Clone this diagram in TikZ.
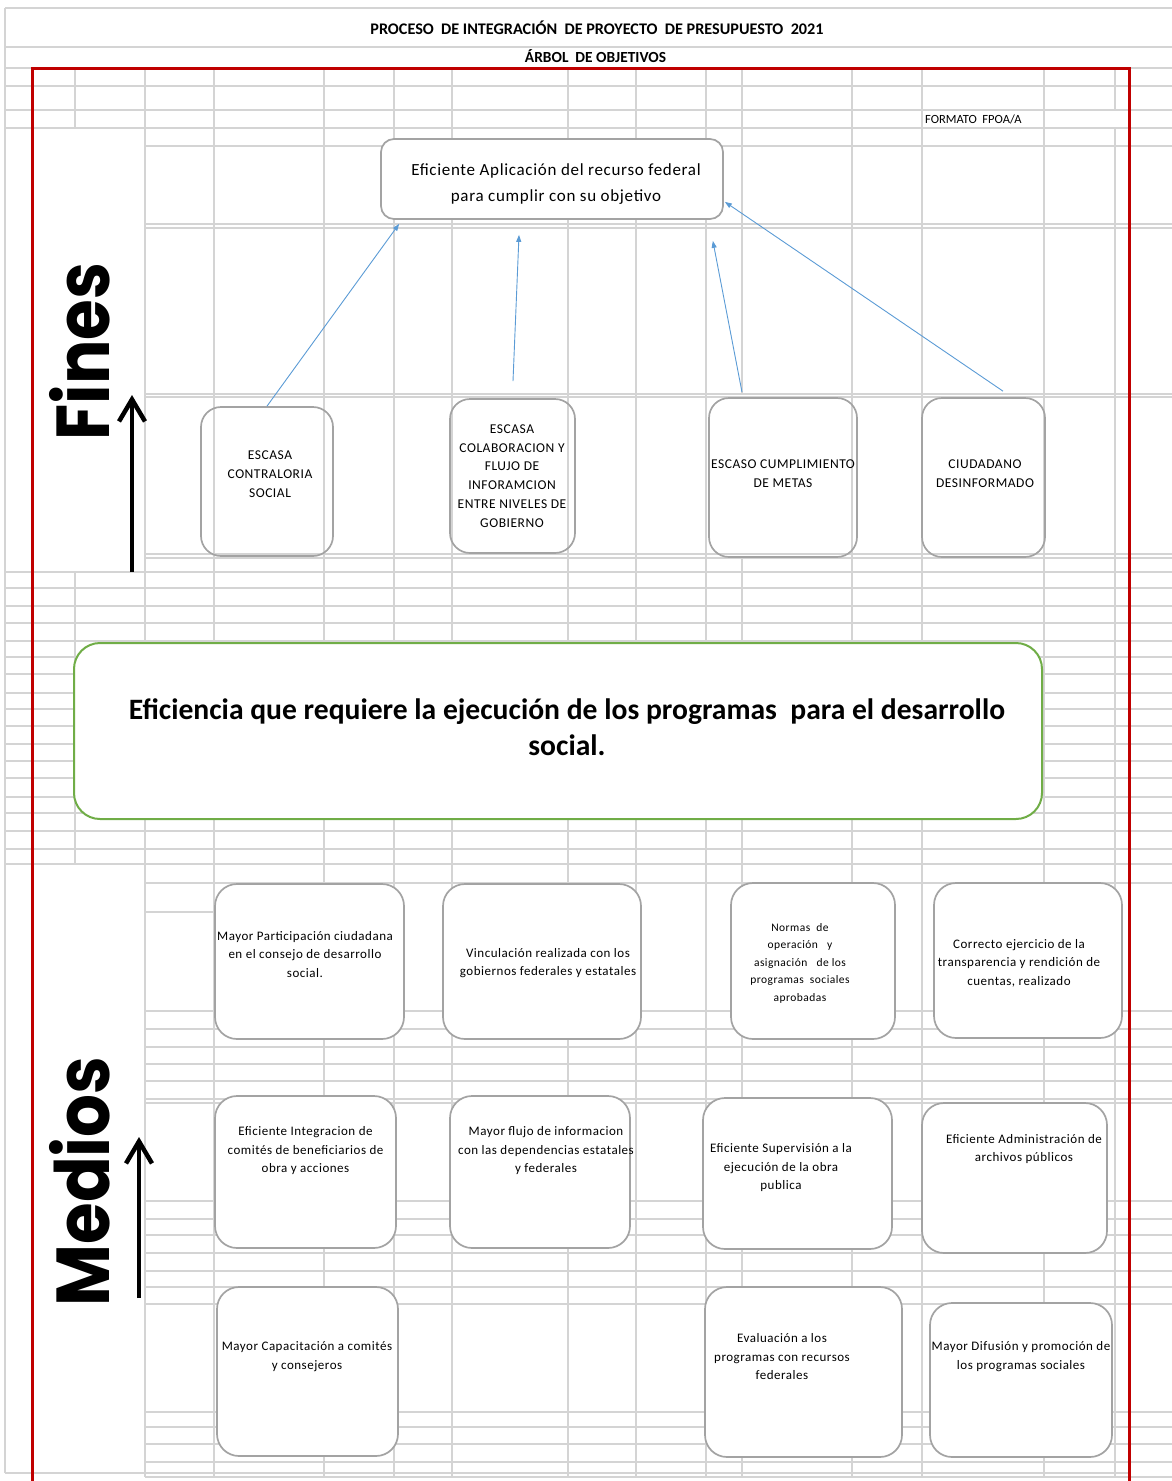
\documentclass[tikz,border=0pt]{standalone}
\usepackage{fontspec}
\usepackage{graphicx}
\setmainfont{Carlito}
\newfontfamily\spacedfont{Carlito}[LetterSpace = 4]
\newfontfamily\sidefont{Poppins Bold}
\usetikzlibrary{calc, fit, arrows.meta}

\definecolor{gridgrey}{HTML}{D4D4D4}
\definecolor{boxgrey}{HTML}{A3A3A3}
\definecolor{framered}{HTML}{C00000}
\definecolor{goalgreen}{HTML}{70AD47}
\definecolor{linkblue}{HTML}{5B9BD5}

\begin{document}
\begin{tikzpicture}[x = 1pt, y = -1pt,
		grid line/.style = {draw = gridgrey, line width = 1.4pt},
		cell box/.style = {draw = boxgrey, line width = 1.7pt, fill = white, inner sep = 0pt, rounded corners = 22pt},
		fin box/.style = {cell box, fill = none, rounded corners = 20pt},
		goal box/.style = {draw = goalgreen, line width = 2pt, fill = white, inner sep = 0pt, rounded corners = 26pt},
		top text/.style = {align = center, inner sep = 0pt, font = \spacedfont\fontsize{17}{26}\selectfont},
		fin text/.style = {align = center, inner sep = 0pt, font = \spacedfont\fontsize{13.5}{18.8}\selectfont},
		medio text/.style = {align = center, inner sep = 0pt, font = \spacedfont\fontsize{13}{18.5}\selectfont},
		link/.style = {draw = linkblue, line width = 0.9pt, -{Triangle[length = 7pt, width = 5pt]}},
		side arrow/.style = {line width = 4.5pt, -{Straight Barb[length = 22pt, width = 26pt]}},
		side label/.style = {rotate = 90, anchor = south, inner sep = 0pt, font = \sidefont\fontsize{75}{75}\selectfont}]
		\def\gridright{1172};
		\def\gridbottom{1477};

		\useasboundingbox (0,0) rectangle (1172,1481);

		\foreach \y in {8, 47, 68, 86, 110, 128, 572, 588, 606, 623, 641, 657, 674, 693, 709, 726, 744, 761, 778, 797, 813, 831, 849, 864}
			\draw [grid line] (5,\y) -- (\gridright,\y);
		\foreach \y in {146, 224, 228, 394, 397, 554, 558, 883, 1011, 1029, 1047, 1064, 1081, 1099, 1103, 1201, 1219, 1235, 1253, 1271, 1287, 1304, 1412, 1427, 1444, 1462, \gridbottom}
			\draw [grid line] (145,\y) -- (\gridright,\y);
		\draw [grid line] (145,912) -- (214,912) (568,912) -- (636,912) (1044,912) -- (1115,912);
		\draw [grid line] (5,1473) -- (1129,1473);

		\foreach \x in {145, 214, 324, 394, 452, 568, 636, 706, 852, 922, 1044}
			\draw [grid line] (\x,68) -- (\x,\gridbottom);
		\draw [grid line] (742,68) -- (742,394) (742,558) -- (742,\gridbottom);
		\draw [grid line] (1115,68) -- (1115,110) (1115,128) -- (1115,\gridbottom);
		\draw [grid line] (75,68) -- (75,128) (75,572) -- (75,864);
		\draw [grid line] (5,8) -- (5,1473);

		\draw [draw = framered, line width = 3pt] (32,1481) -- (32,68) -- (1129,68) -- (1129,1481);

		\node [font = \bfseries\fontsize{16.2}{16.2}\selectfont] (title) at (597,28) {PROCESO \ DE INTEGRACIÓN \ DE PROYECTO \ DE PRESUPUESTO \ 2021};
		\node [font = \bfseries\fontsize{15.4}{15.4}\selectfont] (subtitle) at (595.5,56) {ÁRBOL \ DE OBJETIVOS};
		\node [anchor = west, inner sep = 0pt, font = \fontsize{12.5}{12.5}\selectfont] (formato) at (925,119) {FORMATO \ FPOA/A};

		\node [cell box, rounded corners = 13pt, fit = {(381,139) (723,219)}] (aplicacion box) {};
		\node [top text] (aplicacion text) at (556,184) {Eficiente Aplicación del recurso federal\\para cumplir con su objetivo};

		\node [fin box, fit = {(201,407) (333,556)}] (fin 1 box) {};
		\node [fin text] (fin 1 text) at (270,474) {ESCASA\\CONTRALORIA\\SOCIAL};
		\node [fin box, fit = {(450,399) (575,553)}] (fin 2 box) {};
		\node [fin text] (fin 2 text) at (512,476) {ESCASA\\COLABORACION Y\\FLUJO DE\\INFORAMCION\\ENTRE NIVELES DE\\GOBIERNO};
		\node [fin box, fit = {(709,398) (857,557)}] (fin 3 box) {};
		\node [fin text] (fin 3 text) at (783,474) {ESCASO CUMPLIMIENTO\\DE METAS};
		\node [fin box, fit = {(922,398) (1045,557)}] (fin 4 box) {};
		\node [fin text] (fin 4 text) at (985,474) {CIUDADANO\\DESINFORMADO};

		\draw [link] (fin 1 box.north) -- ($ (aplicacion box.south west) + (19,4) $);
		\draw [link] ($ (fin 2 box.north) + (0.5,-17) $) -- ($ (aplicacion box.south) + (-33,15) $);
		\draw [link] ($ (fin 3 box.north) + (-41,-5) $) -- ($ (aplicacion box.south east) + (-11,21) $);
		\draw [link] ($ (fin 4 box.north) + (19.5,-6) $) -- ($ (aplicacion box.south east) + (1,-18) $);

		\node [goal box, fit = {(74,643) (1042,819)}] (eficiencia box) {};
		\node [align = center, inner sep = 0pt, font = \bfseries\fontsize{29.6}{36}\selectfont] (eficiencia text) at (567,727) {Eficiencia que requiere la ejecución de los programas \ para el desarrollo\\social.};

		\node [cell box, fit = {(215,884) (404,1039)}] (medio 1 1 box) {};
		\node [medio text] (medio 1 1 text) at (305,954.5) {Mayor Participación ciudadana\\en el consejo de desarrollo\\social.};
		\node [cell box, fit = {(443,884) (641,1039)}] (medio 1 2 box) {};
		\node [medio text] (medio 1 2 text) at (548,963) {Vinculación realizada con los\\gobiernos federales y estatales};
		\node [cell box, fit = {(731,883) (895,1039)}] (medio 1 3 box) {};
		\node [medio text, font = \spacedfont\fontsize{11.5}{17.5}\selectfont] (medio 1 3 text) at (800,963) {Normas \ de\\operación \ \ y\\asignación \ \ de los\\programas \ sociales\\aprobadas};
		\node [cell box, fit = {(934,883) (1122,1038)}] (medio 1 4 box) {};
		\node [medio text] (medio 1 4 text) at (1019,963) {Correcto ejercicio de la\\transparencia y rendición de\\cuentas, realizado};

		\node [cell box, fit = {(215,1096) (396,1248)}] (medio 2 1 box) {};
		\node [medio text] (medio 2 1 text) at (305.5,1151) {Eficiente Integracion de\\comités de beneficiarios de\\obra y acciones};
		\node [cell box, fit = {(450,1096) (630,1248)}] (medio 2 2 box) {};
		\node [medio text] (medio 2 2 text) at (546,1151) {Mayor flujo de informacion\\con las dependencias estatales\\y federales};
		\node [cell box, fit = {(703,1098) (892,1249)}] (medio 2 3 box) {};
		\node [medio text] (medio 2 3 text) at (781,1168) {Eficiente Supervisión a la\\ejecución de la obra\\publica};
		\node [cell box, fit = {(922,1103) (1107,1253)}] (medio 2 4 box) {};
		\node [medio text] (medio 2 4 text) at (1024,1149) {Eficiente Administración de\\archivos públicos};

		\node [cell box, fit = {(217,1287) (398,1456)}] (medio 3 1 box) {};
		\node [medio text] (medio 3 1 text) at (307,1356.5) {Mayor Capacitación a comités\\y consejeros};
		\node [cell box, fit = {(705,1287) (902,1457)}] (medio 3 3 box) {};
		\node [medio text] (medio 3 3 text) at (782,1357) {Evaluación a los\\programas con recursos\\federales};
		\node [cell box, fit = {(930,1303) (1112,1457)}] (medio 3 4 box) {};
		\node [medio text] (medio 3 4 text) at (1021,1356.5) {Mayor Difusión y promoción de\\los programas sociales};

		\node [side label] (fines) at (110,351.5) {\scalebox{0.88}[1]{Fines}};
		\node [side label] (medios) at (110,1181.5) {\scalebox{0.9}[1]{Medios}};

		\coordinate (fines foot) at (132,572);
		\coordinate (fines tip) at (132,395);
		\draw [side arrow] (fines foot) -- (fines tip);
		\coordinate (medios foot) at (139,1298);
		\coordinate (medios tip) at (139,1137);
		\draw [side arrow] (medios foot) -- (medios tip);
	\end{tikzpicture}
\end{document}
